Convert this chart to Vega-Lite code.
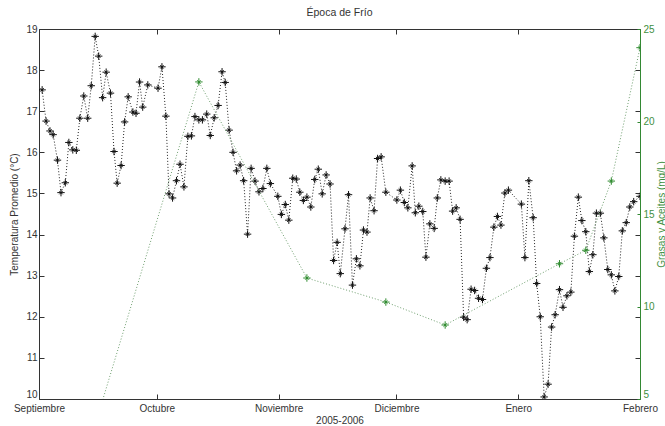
{
  "$schema": "https://vega.github.io/schema/vega-lite/v6.json",
  "width": 601,
  "height": 370,
  "autosize": {"type": "none"},
  "padding": {"left": 39, "top": 29, "right": 25, "bottom": 27},
  "background": "white",
  "config": {
    "font": "Liberation Sans",
    "view": {"stroke": null},
    "axis": {
      "grid": false,
      "labelFont": "Liberation Sans",
      "titleFont": "Liberation Sans",
      "labelFontSize": 10,
      "titleFontSize": 10,
      "titleFontWeight": "normal",
      "labelColor": "#333333",
      "titleColor": "#333333",
      "domainColor": "#333333",
      "tickColor": "#333333",
      "domainWidth": 1,
      "tickWidth": 1
    }
  },
  "title": {"text": "Época de Frío", "fontSize": 10.5, "fontWeight": "normal", "color": "#333333", "offset": 6, "font": "Liberation Sans"},
  "datasets": {
    "temperatura": [
      {"dia":0.8,"temp":17.52},{"dia":1.8,"temp":16.76},{"dia":2.8,"temp":16.52},{"dia":3.6,"temp":16.43},{"dia":4.7,"temp":15.81},{"dia":5.6,"temp":15.02},{"dia":6.7,"temp":15.26},{"dia":7.6,"temp":16.24},{"dia":8.6,"temp":16.06},{"dia":9.5,"temp":16.05},{"dia":10.4,"temp":16.83},{"dia":11.4,"temp":17.37},{"dia":12.4,"temp":16.83},{"dia":13.3,"temp":17.62},{"dia":14.3,"temp":18.82},{"dia":15.2,"temp":18.34},{"dia":16.2,"temp":17.33},{"dia":17.1,"temp":17.95},{"dia":18.2,"temp":17.44},{"dia":19.1,"temp":16.02},{"dia":19.9,"temp":15.25},{"dia":20.9,"temp":15.68},{"dia":21.8,"temp":16.74},{"dia":22.7,"temp":17.35},{"dia":23.9,"temp":16.98},{"dia":24.7,"temp":16.95},{"dia":25.6,"temp":17.71},{"dia":26.4,"temp":17.10},{"dia":27.7,"temp":17.64},{"dia":30.3,"temp":17.56},{"dia":31.3,"temp":18.08},{"dia":32.3,"temp":16.88},{"dia":33.1,"temp":14.99},{"dia":34.0,"temp":14.89},{"dia":35.0,"temp":15.31},{"dia":35.9,"temp":15.71},{"dia":36.9,"temp":15.16},{"dia":37.9,"temp":16.39},{"dia":38.8,"temp":16.40},{"dia":39.7,"temp":16.87},{"dia":40.7,"temp":16.79},{"dia":41.6,"temp":16.79},{"dia":42.7,"temp":16.93},{"dia":43.6,"temp":16.41},{"dia":44.6,"temp":16.84},{"dia":45.6,"temp":17.14},{"dia":46.6,"temp":17.96},{"dia":47.4,"temp":17.70},{"dia":48.4,"temp":16.54},{"dia":49.4,"temp":16.00},{"dia":50.3,"temp":15.55},{"dia":51.2,"temp":15.69},{"dia":52.1,"temp":15.31},{"dia":53.1,"temp":14.01},{"dia":54.0,"temp":15.61},{"dia":55.0,"temp":15.30},{"dia":56.0,"temp":15.04},{"dia":57.0,"temp":15.12},{"dia":58.0,"temp":15.61},{"dia":58.9,"temp":15.24},{"dia":60.8,"temp":14.93},{"dia":61.7,"temp":14.49},{"dia":62.7,"temp":14.73},{"dia":63.6,"temp":14.35},{"dia":64.6,"temp":15.37},{"dia":65.5,"temp":15.35},{"dia":66.4,"temp":15.03},{"dia":67.3,"temp":14.83},{"dia":68.2,"temp":14.91},{"dia":69.2,"temp":14.67},{"dia":70.2,"temp":15.34},{"dia":71.1,"temp":15.59},{"dia":72.1,"temp":14.99},{"dia":73.1,"temp":15.45},{"dia":74.1,"temp":15.23},{"dia":75.0,"temp":13.37},{"dia":75.9,"temp":13.81},{"dia":76.7,"temp":13.05},{"dia":77.9,"temp":14.14},{"dia":78.8,"temp":14.97},{"dia":79.8,"temp":12.77},{"dia":80.8,"temp":13.41},{"dia":81.7,"temp":13.24},{"dia":82.6,"temp":14.11},{"dia":83.5,"temp":14.06},{"dia":84.3,"temp":14.89},{"dia":85.3,"temp":14.58},{"dia":86.2,"temp":15.85},{"dia":87.1,"temp":15.89},{"dia":88.3,"temp":15.03},{"dia":91.1,"temp":14.84},{"dia":92.0,"temp":15.08},{"dia":93.0,"temp":14.78},{"dia":93.9,"temp":14.65},{"dia":95.0,"temp":15.67},{"dia":95.8,"temp":14.53},{"dia":96.7,"temp":14.69},{"dia":97.7,"temp":14.56},{"dia":98.5,"temp":13.45},{"dia":99.5,"temp":14.26},{"dia":100.6,"temp":14.15},{"dia":101.4,"temp":14.89},{"dia":102.3,"temp":15.33},{"dia":103.4,"temp":15.30},{"dia":104.4,"temp":15.30},{"dia":105.3,"temp":14.57},{"dia":106.2,"temp":14.65},{"dia":107.2,"temp":14.37},{"dia":108.1,"temp":11.99},{"dia":109.0,"temp":11.93},{"dia":110.0,"temp":12.67},{"dia":110.9,"temp":12.64},{"dia":111.9,"temp":12.45},{"dia":112.9,"temp":12.42},{"dia":113.9,"temp":13.18},{"dia":114.8,"temp":13.44},{"dia":115.8,"temp":14.18},{"dia":116.7,"temp":14.44},{"dia":117.6,"temp":14.23},{"dia":118.6,"temp":15.01},{"dia":119.5,"temp":15.08},{"dia":122.8,"temp":14.74},{"dia":123.7,"temp":13.44},{"dia":124.7,"temp":15.31},{"dia":125.8,"temp":14.41},{"dia":126.7,"temp":12.81},{"dia":127.6,"temp":12.00},{"dia":128.6,"temp":10.05},{"dia":129.6,"temp":10.36},{"dia":130.5,"temp":11.75},{"dia":131.4,"temp":12.05},{"dia":132.5,"temp":12.66},{"dia":133.4,"temp":12.23},{"dia":134.4,"temp":12.51},{"dia":135.4,"temp":12.60},{"dia":136.3,"temp":13.96},{"dia":137.3,"temp":14.91},{"dia":138.2,"temp":14.34},{"dia":139.2,"temp":14.07},{"dia":140.1,"temp":13.10},{"dia":141.0,"temp":13.51},{"dia":141.9,"temp":14.52},{"dia":142.9,"temp":14.52},{"dia":143.8,"temp":13.92},{"dia":144.8,"temp":13.15},{"dia":145.7,"temp":13.02},{"dia":146.6,"temp":12.63},{"dia":147.6,"temp":12.98},{"dia":148.5,"temp":14.09},{"dia":149.5,"temp":14.29},{"dia":150.4,"temp":14.67},{"dia":151.4,"temp":14.80},{"dia":153.0,"temp":14.93}
    ],
    "grasas": [
      {"dia":16.0,"grasas":4.8},{"dia":40.7,"grasas":22.14},{"dia":68.2,"grasas":11.54},{"dia":88.3,"grasas":10.24},{"dia":103.4,"grasas":9.0},{"dia":132.5,"grasas":12.31},{"dia":139.2,"grasas":13.04},{"dia":145.7,"grasas":16.78},{"dia":153.0,"grasas":23.99}
    ]
  },
  "layer": [
    {
      "data": {"name": "temperatura"},
      "mark": {
        "type": "point",
        "opacity": 0
      },
      "encoding": {
        "x": {"field": "dia", "type": "quantitative", "scale": {"domain": [0, 153], "nice": false, "zero": false},
          "axis": {"orient": "top", "values": [0, 30, 61, 91, 122, 153], "labels": false, "tickSize": -5, "title": null, "domain": true}},
        "y": {"field": "temp", "type": "quantitative", "scale": {"domain": [10, 19], "nice": false, "zero": false},
          "axis": {"orient": "right", "values": [11, 12, 13, 14, 15, 16, 17, 18], "labels": false, "tickSize": -5, "title": null, "domain": false}}
      }
    },
    {
      "data": {"name": "temperatura"},
      "mark": {
        "type": "line",
        "stroke": "#222222",
        "strokeWidth": 1,
        "strokeDash": [1, 2],
        "clip": true,
        "point": {"shape": "M-1,0L1,0M0,-1L0,1M-0.45,-0.45L0.45,0.45M-0.45,0.45L0.45,-0.45", "filled": false, "size": 55, "stroke": "#111111", "strokeWidth": 1, "opacity": 1}
      },
      "encoding": {
        "x": {"field": "dia", "type": "quantitative", "scale": {"domain": [0, 153], "nice": false, "zero": false},
          "axis": {"orient": "bottom", "values": [0, 30, 61, 91, 122, 153], "tickSize": -5, "labelPadding": 9,
            "labelExpr": "['Septiembre','Octubre','Noviembre','Diciembre','Enero','Febrero'][indexof([0,30,61,91,122,153], datum.value)]",
            "labelFlush": false, "labelOverlap": false,
            "title": "2005-2006", "titleX": 300.5, "titleY": 21, "titleAlign": "center", "titleBaseline": "middle"}},
        "y": {"field": "temp", "type": "quantitative", "scale": {"domain": [10, 19], "nice": false, "zero": false},
          "axis": {"orient": "left", "values": [10, 11, 12, 13, 14, 15, 16, 17, 18, 19], "tickSize": -5, "labelPadding": 7,
            "labelBaseline": {"condition": {"test": "datum.value == 10", "value": "bottom"}, "value": "middle"},
            "labelFlush": false, "labelOverlap": false,
            "title": "Temperatura Promedio (°C)", "titleX": -25, "titleY": 185, "titleAngle": 270, "titleAlign": "center", "titleBaseline": "middle"}}
      }
    },
    {
      "data": {"name": "grasas"},
      "mark": {
        "type": "line",
        "stroke": "#6f9f6f",
        "strokeWidth": 1,
        "strokeDash": [1, 2],
        "clip": true,
        "point": {"shape": "M-1,0L1,0M0,-1L0,1M-0.45,-0.45L0.45,0.45M-0.45,0.45L0.45,-0.45", "filled": false, "size": 55, "stroke": "#2e8b2e", "strokeWidth": 1, "opacity": 1, "clip": true}
      },
      "encoding": {
        "x": {"field": "dia", "type": "quantitative", "scale": {"domain": [0, 153], "nice": false, "zero": false}, "axis": null},
        "y": {"field": "grasas", "type": "quantitative", "scale": {"domain": [5, 25], "nice": false, "zero": false},
          "axis": {"orient": "right", "values": [5, 10, 15, 20, 25], "tickSize": -3, "labelPadding": 6,
            "labelBaseline": {"condition": {"test": "datum.value == 5", "value": "bottom"}, "value": "middle"},
            "labelFlush": false, "labelOverlap": false,
            "domainColor": "#338833", "tickColor": "#338833", "labelColor": "#3f8f3f", "titleColor": "#3f8f3f",
            "title": "Grasas y Aceites (mg/L)", "titleX": 21, "titleY": 185, "titleAngle": 270, "titleAlign": "center", "titleBaseline": "middle"}}
      }
    }
  ],
  "resolve": {"scale": {"y": "independent"}, "axis": {"x": "independent", "y": "independent"}}
}
